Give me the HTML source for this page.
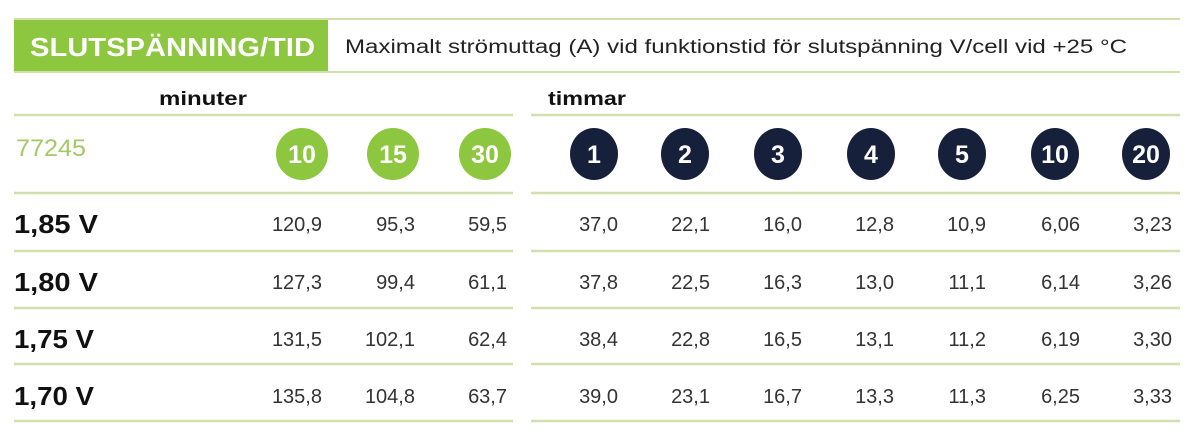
<!DOCTYPE html>
<html><head><meta charset="utf-8"><style>
html,body{margin:0;padding:0;background:#fff;width:1200px;height:442px;overflow:hidden}
svg{display:block}
text{font-family:"Liberation Sans","DejaVu Sans",sans-serif}
</style></head><body>
<svg width="1200" height="442" viewBox="0 0 1200 442" xmlns="http://www.w3.org/2000/svg">
<rect x="14" y="20" width="314" height="52" fill="#8dc63f"/>
<line x1="14" y1="19" x2="1180" y2="19" stroke="#d0e0ac" stroke-width="2"/>
<line x1="14" y1="72" x2="1180" y2="72" stroke="#d0e0ac" stroke-width="2"/>
<text x="30" y="56" font-size="26" font-weight="bold" fill="#fff" textLength="285" lengthAdjust="spacingAndGlyphs">SLUTSPÄNNING/TID</text>
<text x="345" y="53" font-size="19" fill="#222" textLength="782" lengthAdjust="spacingAndGlyphs">Maximalt strömuttag (A) vid funktionstid för slutspänning V/cell vid +25 °C</text>
<text x="159" y="105" font-size="19" font-weight="bold" fill="#111" textLength="88" lengthAdjust="spacingAndGlyphs">minuter</text>
<text x="548" y="105" font-size="19" font-weight="bold" fill="#111" textLength="78" lengthAdjust="spacingAndGlyphs">timmar</text>
<g stroke="#d0e0ac" stroke-width="2.5">
<line x1="14" y1="115" x2="513" y2="115"/><line x1="531" y1="115" x2="1180" y2="115"/>
<line x1="14" y1="193" x2="513" y2="193"/><line x1="531" y1="193" x2="1180" y2="193"/>
<line x1="14" y1="251" x2="513" y2="251"/><line x1="531" y1="251" x2="1180" y2="251"/>
<line x1="14" y1="308" x2="513" y2="308"/><line x1="531" y1="308" x2="1180" y2="308"/>
<line x1="14" y1="364" x2="513" y2="364"/><line x1="531" y1="364" x2="1180" y2="364"/>
<line x1="14" y1="421" x2="513" y2="421"/><line x1="531" y1="421" x2="1180" y2="421"/>
</g>
<text x="16" y="156" font-size="24" fill="#a3c866" textLength="70" lengthAdjust="spacingAndGlyphs">77245</text>
<g font-size="25" font-weight="bold" fill="#fff" text-anchor="middle">
<ellipse cx="302" cy="154" rx="26" ry="26" fill="#8dc63f"/><text x="302" y="163">10</text>
<ellipse cx="393" cy="154" rx="26" ry="26" fill="#8dc63f"/><text x="393" y="163">15</text>
<ellipse cx="485" cy="154" rx="26" ry="26" fill="#8dc63f"/><text x="485" y="163">30</text>
<ellipse cx="594" cy="154" rx="24" ry="26" fill="#17203a"/><text x="594" y="163">1</text>
<ellipse cx="685" cy="154" rx="24" ry="26" fill="#17203a"/><text x="685" y="163">2</text>
<ellipse cx="778" cy="154" rx="24" ry="26" fill="#17203a"/><text x="778" y="163">3</text>
<ellipse cx="871" cy="154" rx="24" ry="26" fill="#17203a"/><text x="871" y="163">4</text>
<ellipse cx="962" cy="154" rx="24" ry="26" fill="#17203a"/><text x="962" y="163">5</text>
<ellipse cx="1055" cy="154" rx="24" ry="26" fill="#17203a"/><text x="1055" y="163">10</text>
<ellipse cx="1146" cy="154" rx="24" ry="26" fill="#17203a"/><text x="1146" y="163">20</text>
</g>
<g font-size="26" font-weight="bold" fill="#111">
<text x="14" y="233" textLength="84" lengthAdjust="spacingAndGlyphs">1,85 V</text>
<text x="14" y="291" textLength="84" lengthAdjust="spacingAndGlyphs">1,80 V</text>
<text x="14" y="348" textLength="80" lengthAdjust="spacingAndGlyphs">1,75 V</text>
<text x="14" y="405" textLength="80" lengthAdjust="spacingAndGlyphs">1,70 V</text>
</g>
<g font-size="20" fill="#333" text-anchor="end">
<text y="231"><tspan x="322">120,9</tspan><tspan x="415">95,3</tspan><tspan x="507">59,5</tspan><tspan x="618">37,0</tspan><tspan x="710">22,1</tspan><tspan x="802">16,0</tspan><tspan x="894">12,8</tspan><tspan x="986">10,9</tspan><tspan x="1080">6,06</tspan><tspan x="1172">3,23</tspan></text>
<text y="289"><tspan x="322">127,3</tspan><tspan x="415">99,4</tspan><tspan x="507">61,1</tspan><tspan x="618">37,8</tspan><tspan x="710">22,5</tspan><tspan x="802">16,3</tspan><tspan x="894">13,0</tspan><tspan x="986">11,1</tspan><tspan x="1080">6,14</tspan><tspan x="1172">3,26</tspan></text>
<text y="346"><tspan x="322">131,5</tspan><tspan x="415">102,1</tspan><tspan x="507">62,4</tspan><tspan x="618">38,4</tspan><tspan x="710">22,8</tspan><tspan x="802">16,5</tspan><tspan x="894">13,1</tspan><tspan x="986">11,2</tspan><tspan x="1080">6,19</tspan><tspan x="1172">3,30</tspan></text>
<text y="403"><tspan x="322">135,8</tspan><tspan x="415">104,8</tspan><tspan x="507">63,7</tspan><tspan x="618">39,0</tspan><tspan x="710">23,1</tspan><tspan x="802">16,7</tspan><tspan x="894">13,3</tspan><tspan x="986">11,3</tspan><tspan x="1080">6,25</tspan><tspan x="1172">3,33</tspan></text>
</g>
</svg>
</body></html>
